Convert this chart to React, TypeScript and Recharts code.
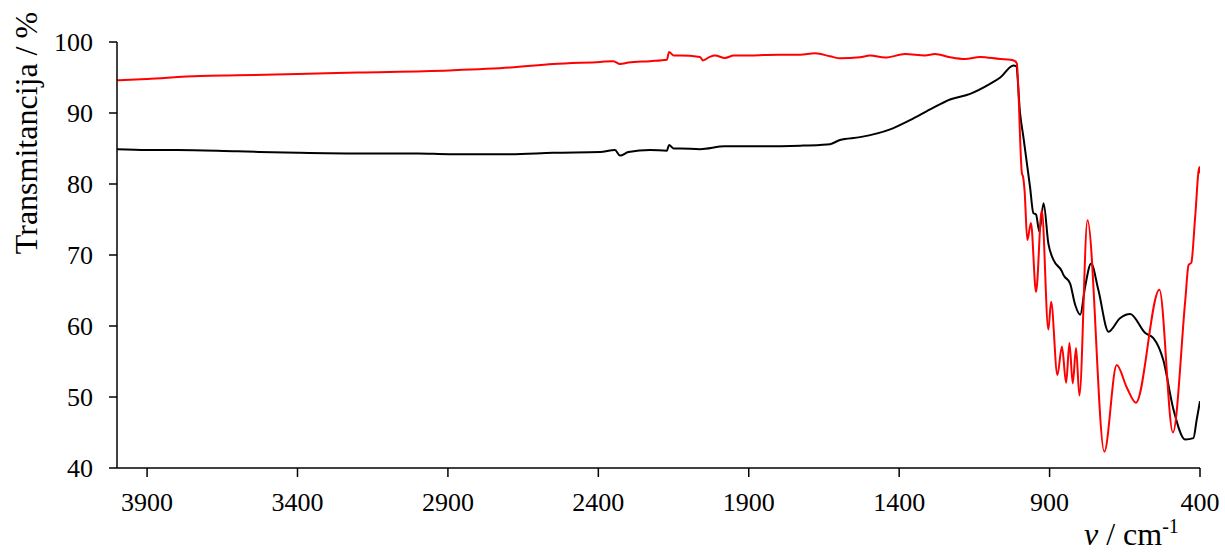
import React from "react";
import { LineChart, Line, XAxis, YAxis } from "recharts";

const FONT = "'Times New Roman', 'Liberation Serif', serif";

const X_TICKS = [3900, 3400, 2900, 2400, 1900, 1400, 900, 400];
const Y_TICKS = [40, 50, 60, 70, 80, 90, 100];

// red spectrum: wavenumber / transmittance
const RED_X = [
  4000, 3900, 3724, 3600, 3398, 3200, 2896, 2693, 2550, 2394, 2350, 2328, 2300,
  2228, 2172, 2165, 2150, 2128, 2062, 2052, 2030, 2012, 1979, 1950, 1929, 1800,
  1729, 1680, 1630, 1596, 1530, 1497, 1447, 1380, 1314, 1281, 1231, 1181, 1131,
  1064, 1030, 1015, 1009, 992, 988, 983, 974, 962, 945, 926, 904, 895, 874, 859,
  845, 834, 823, 812, 801, 774, 718, 677, 643, 613, 535, 490, 449, 438, 429, 416,
  402, 400,
];
const RED_Y = [
  94.6, 94.8, 95.2, 95.3, 95.5, 95.7, 96.0, 96.4, 96.9, 97.2, 97.3, 96.9, 97.1,
  97.3, 97.5, 98.6, 98.1, 98.1, 97.9, 97.4, 97.9, 98.1, 97.75, 98.1, 98.1, 98.2,
  98.2, 98.4, 98.0, 97.7, 97.85, 98.1, 97.8, 98.3, 98.1, 98.3, 97.85, 97.6, 97.9,
  97.6, 97.5, 97.3, 97.0, 81.5, 81.0, 79.0, 72.1, 74.5, 64.8, 76.3, 59.5, 63.4,
  53.1, 57.1, 52.0, 57.6, 51.9, 56.9, 50.2, 74.9, 42.3, 54.5, 51.3, 49.2, 65.1,
  45.0, 63.6, 68.6, 68.9, 75.4, 82.4, 81.5,
];

// black spectrum
const BLACK_X = [
  4000, 3900, 3800, 3600, 3398, 3200, 3000, 2896, 2693, 2550, 2394, 2345, 2328,
  2300, 2228, 2172, 2165, 2150, 2128, 2062, 1979, 1900, 1729, 1663, 1630, 1597,
  1530, 1430, 1364, 1297, 1231, 1164, 1098, 1064, 1020, 1011, 998, 987, 965, 954,
  945, 934, 920, 904, 887, 859, 854, 832, 815, 798, 782, 762, 738, 704, 666, 632,
  582, 555, 522, 488, 449, 422, 411, 400,
];
const BLACK_Y = [
  84.9, 84.8, 84.8, 84.6, 84.4, 84.3, 84.3, 84.2, 84.2, 84.4, 84.5, 84.8, 84.0,
  84.5, 84.8, 84.7, 85.5, 85.0, 85.0, 84.9, 85.3, 85.3, 85.4, 85.5, 85.6, 86.2,
  86.6, 87.7, 89.0, 90.5, 91.9, 92.7, 94.1, 95.0, 96.7, 96.6, 89.9, 86.6, 79.6,
  75.9, 75.7, 73.3, 77.3, 71.6, 69.3, 67.7, 67.2, 66.0, 63.0, 61.6, 65.5, 68.8,
  65.1, 59.2, 61.1, 61.7, 59.0, 58.3, 55.2, 48.2, 44.0, 44.2, 46.8, 49.4,
];

const toRows = (xs: number[], ys: number[]) => xs.map((x, i) => ({ x, y: ys[i] }));

const axisStyle = { stroke: "#000", strokeWidth: 1.5 };
const tickStyle = { fill: "#000", fontSize: 26, fontFamily: FONT };

export default function App() {
  const red = toRows(RED_X, RED_Y);
  const black = toRows(BLACK_X, BLACK_Y);

  return (
    <div
      style={{
        position: "absolute",
        left: 0,
        top: 0,
        width: 1225,
        height: 556,
        background: "#fff",
        fontFamily: FONT,
      }}
    >
      <LineChart width={1225} height={556} margin={{ top: 42, right: 25, bottom: 0, left: 0 }}>
        <XAxis
          type="number"
          dataKey="x"
          domain={[400, 4000]}
          reversed
          ticks={X_TICKS}
          interval={0}
          allowDataOverflow
          height={88}
          tickSize={9}
          tickMargin={16}
          axisLine={axisStyle}
          tickLine={axisStyle}
          tick={tickStyle}
        />
        <YAxis
          type="number"
          domain={[40, 100]}
          ticks={Y_TICKS}
          interval={0}
          allowDataOverflow
          width={117}
          tickSize={8}
          tickMargin={16}
          axisLine={axisStyle}
          tickLine={axisStyle}
          tick={tickStyle}
        />
        <Line
          data={black}
          dataKey="y"
          type="monotone"
          stroke="#000000"
          strokeWidth={2}
          dot={false}
          isAnimationActive={false}
        />
        <Line
          data={red}
          dataKey="y"
          type="monotone"
          stroke="#ff0000"
          strokeWidth={2}
          dot={false}
          isAnimationActive={false}
        />
      </LineChart>
      <div
        style={{
          position: "absolute",
          left: 26,
          top: 133,
          transform: "translate(-50%, -50%) rotate(-90deg)",
          whiteSpace: "nowrap",
          fontSize: 32,
          lineHeight: "36px",
        }}
      >
        Transmitancija / %
      </div>
      <div
        style={{
          position: "absolute",
          left: 1084,
          top: 516,
          whiteSpace: "nowrap",
          fontSize: 32,
          lineHeight: "36px",
        }}
      >
        <i>ν</i> / cm
        <span style={{ fontSize: 20, verticalAlign: "super", lineHeight: 0 }}>-1</span>
      </div>
    </div>
  );
}
